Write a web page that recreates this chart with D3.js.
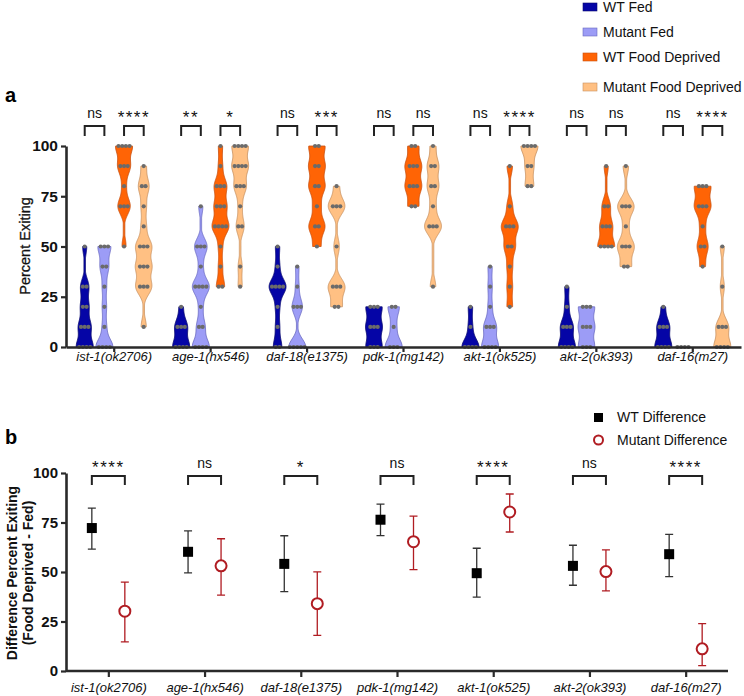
<!DOCTYPE html>
<html>
<head>
<meta charset="utf-8">
<script src="https://cdn.jsdelivr.net/npm/d3@7"></script>
<style>
  body { margin: 0; background: #fff; }
  text { font-family: "Liberation Sans", Arial, sans-serif; }
</style>
</head>
<body>
<svg width="744" height="696"></svg>
<script>
// Genotypes on the x axis
var genotypes = ["ist-1(ok2706)", "age-1(hx546)", "daf-18(e1375)", "pdk-1(mg142)",
                 "akt-1(ok525)", "akt-2(ok393)", "daf-16(m27)"];

// Panel a: percent exiting per plate
var wtFed = [
  [0,0,0,0,10,10,10,20,20,30,30,50],
  [0,0,0,0,10,10,10,20],
  [0,0,10,20,30,30,30,30,40,50],
  [0,0,0,10,10,10,20,20,20],
  [0,0,0,0,10,20],
  [0,0,0,0,10,10,10,20,30],
  [0,0,0,0,10,10,10,20]
];
var mutantFed = [
  [0,0,0,0,10,20,30,40,40,50,50,50],
  [0,0,0,0,10,10,20,30,30,30,30,40,50,50,50,70],
  [0,0,0,0,0,20,20,20,30,40],
  [0,0,0,10,20,20],
  [0,0,0,0,10,10,10,20,30,40],
  [0,0,0,10,10,10,20,20,20],
  [0,0,0,0]
];
var wtDeprived = [
  [50,70,70,70,80,90,90,90,100,100,100,100],
  [30,30,40,50,60,60,60,60,70,70,70,80,80,80,90,100],
  [50,60,60,70,80,80,90,90,100,100],
  [70,70,80,80,80,90,90,90,100,100],
  [20,30,40,50,50,60,60,60,70,90],
  [50,50,50,50,60,60,60,70,70,90],
  [40,50,50,60,70,70,70,80,80,80]
];
var mutantDeprived = [
  [10,30,30,30,40,40,40,50,50,50,60,70,80,80,90],
  [30,40,60,60,70,80,80,80,90,90,90,90,100,100,100,100],
  [20,20,30,30,30,50,70,70,70,80],
  [30,60,60,60,70,80,80,90,90,100],
  [80,80,90,90,100,100,100,100],
  [40,40,50,50,50,60,70,70,70,90],
  [0,0,0,0,10,10,10,30,50]
];
var sigFed      = ["ns", "**", "ns", "ns", "ns", "ns", "ns"];
var sigDeprived = ["****", "*", "***", "ns", "****", "ns", "****"];

// Panel b: difference (food deprived - fed), mean with error bar
var wtDiff     = [72.2, 60.2, 54.1, 76.4, 49.4, 53.1, 59.0];
var wtDiffLow  = [61.6, 49.6, 40.1, 68.4, 37.3, 43.3, 47.7];
var wtDiffHigh = [82.3, 70.8, 68.3, 84.3, 62.0, 63.5, 69.0];
var mutDiff     = [30.2, 53.1, 34.0, 65.3, 80.3, 50.2, 11.2];
var mutDiffLow  = [14.7, 38.3, 18.0, 51.2, 70.2, 40.5, 2.7];
var mutDiffHigh = [44.9, 66.8, 50.1, 78.2, 89.4, 61.2, 23.9];
var sigDiff = ["****", "ns", "*", "ns", "****", "ns", "****"];

var percentTicks = [0, 25, 50, 75, 100];

var seriesNames = ["WT Fed", "Mutant Fed", "WT Food Deprived", "Mutant Food Deprived"];
var fills   = ["#0505a6", "#9c9cf6", "#ff6405", "#ffc083"];
var strokes = ["#0a0a70", "#6a6ac0", "#c85010", "#c89060"];

var svg = d3.select("svg");
var axisColor = "#2a2a2a";

function styleAxis(g) {
  g.select(".domain").attr("stroke", axisColor).attr("stroke-width", 2.6);
  g.selectAll(".tick line").attr("stroke", axisColor).attr("stroke-width", 2.2);
  g.selectAll(".tick text").attr("fill", "#111").attr("font-family", "Liberation Sans, Arial, sans-serif");
}

function bracket(g, x1, x2, yTop, yBottom, label) {
  g.append("path")
    .attr("d", "M" + x1 + "," + yBottom + "V" + yTop + "H" + x2 + "V" + yBottom)
    .attr("fill", "none").attr("stroke", "#222").attr("stroke-width", 2);
  g.append("text")
    .attr("x", (x1 + x2) / 2)
    .attr("y", label == "ns" ? yTop - 8 : yTop - 3)
    .attr("text-anchor", "middle")
    .attr("font-size", label == "ns" ? 14 : 17)
    .attr("letter-spacing", label == "ns" ? 0 : 1.5)
    .attr("fill", "#111")
    .text(label);
}

// ---------------- Panel a ----------------
var xA = d3.scaleBand().domain(genotypes).range([66, 741]);
var yA = d3.scaleLinear().domain([0, 100]).range([347, 146]);
var sub = d3.scalePoint().domain(d3.range(4)).range([-29.5, 29.5]);

svg.append("text").attr("x", 5).attr("y", 102).attr("font-size", 20)
  .attr("font-weight", "bold").text("a");

svg.append("text")
  .attr("transform", "translate(30,246) rotate(-90)")
  .attr("text-anchor", "middle").attr("font-size", 14.5).attr("fill", "#111")
  .attr("stroke", "#111").attr("stroke-width", 0.3)
  .text("Percent Exiting");

// kernel density for one violin
function kde(values, h) {
  var lo = d3.min(values), hi = d3.max(values);
  var pts = [];
  for (var v = lo; v <= hi + 0.001; v += 0.5) {
    var d = d3.sum(values, function (x) { return Math.exp(-0.5 * Math.pow((v - x) / h, 2)); });
    pts.push([v, d]);
  }
  return pts;
}

var allSeries = [wtFed, mutantFed, wtDeprived, mutantDeprived];
var violinG = svg.append("g");
var dotG = svg.append("g");

genotypes.forEach(function (gname, gi) {
  var cx0 = xA(gname) + xA.bandwidth() / 2;
  allSeries.forEach(function (series, si) {
    var vals = series[gi];
    var cx = cx0 + sub(si);
    if (d3.min(vals) < d3.max(vals)) {
      var dens = kde(vals, 4);
      var maxD = d3.max(dens, function (p) { return p[1]; });
      var area = d3.area()
        .curve(d3.curveBasis)
        .y(function (p) { return yA(p[0]); })
        .x0(function (p) { return cx - Math.max(0.8, 8.5 * p[1] / maxD); })
        .x1(function (p) { return cx + Math.max(0.8, 8.5 * p[1] / maxD); });
      violinG.append("path")
        .attr("d", area(dens))
        .attr("fill", fills[si])
        .attr("stroke", strokes[si])
        .attr("stroke-width", 0.8);
    }
    var counts = d3.rollups(vals, function (v) { return v.length; }, function (v) { return v; });
    counts.forEach(function (c) {
      for (var i = 0; i < c[1]; i++) {
        dotG.append("circle")
          .attr("cx", cx + (i - (c[1] - 1) / 2) * 3.7)
          .attr("cy", yA(c[0]))
          .attr("r", 2.1)
          .attr("fill", "#6b6b6b");
      }
    });
  });
  bracket(svg, cx0 + sub(0), cx0 + sub(1), 126, 136, sigFed[gi]);
  bracket(svg, cx0 + sub(2), cx0 + sub(3), 126, 136, sigDeprived[gi]);
});

var axA = svg.append("g").attr("transform", "translate(66,0)")
  .call(d3.axisLeft(yA).tickValues(percentTicks).tickSize(5).tickPadding(3).tickSizeOuter(0));
axA.selectAll(".tick text").attr("font-size", 15.5).attr("font-weight", "bold");
styleAxis(axA);

var axAx = svg.append("g").attr("transform", "translate(0,347)")
  .call(d3.axisBottom(xA).tickSize(5).tickPadding(0).tickSizeOuter(0));
axAx.selectAll(".tick text").attr("font-size", 13).attr("font-style", "italic");
styleAxis(axAx);

// legend a
var legRows = [7, 32, 57, 87];
seriesNames.forEach(function (name, i) {
  svg.append("rect").attr("x", 583).attr("y", legRows[i] - 4).attr("width", 14).attr("height", 8)
    .attr("fill", fills[i]).attr("stroke", strokes[i]).attr("stroke-width", 0.6);
  svg.append("text").attr("x", 603).attr("y", legRows[i] + 5).attr("font-size", 14)
    .attr("fill", "#111").text(name);
});

// ---------------- Panel b ----------------
var xB = d3.scalePoint().domain(genotypes).range([66, 728]).padding(0.44);
var yB = d3.scaleLinear().domain([0, 100]).range([671, 473]);
var off = 16.5;

svg.append("text").attr("x", 5).attr("y", 444).attr("font-size", 20)
  .attr("font-weight", "bold").text("b");

var titleB = svg.append("text")
  .attr("transform", "translate(0,573) rotate(-90)")
  .attr("text-anchor", "middle").attr("font-size", 14).attr("font-weight", "bold").attr("fill", "#111");
titleB.append("tspan").attr("x", 0).attr("y", 17).text("Difference Percent Exiting");
titleB.append("tspan").attr("x", 0).attr("y", 33).text("(Food Deprived - Fed)");

var axB = svg.append("g").attr("transform", "translate(66,0)")
  .call(d3.axisLeft(yB).tickValues(percentTicks).tickSize(5).tickPadding(3).tickSizeOuter(0));
axB.selectAll(".tick text").attr("font-size", 15).attr("font-weight", "bold");
styleAxis(axB);

var axBx = svg.append("g").attr("transform", "translate(0,671)")
  .call(d3.axisBottom(xB).tickSize(6).tickPadding(6).tickSizeOuter(0));
axBx.select(".domain").attr("d", "M66,0H728");
axBx.selectAll(".tick text").attr("font-size", 13).attr("font-style", "italic");
styleAxis(axBx);

var red = "#b01c22";
genotypes.forEach(function (gname, gi) {
  var cx = xB(gname);
  // WT
  var xw = cx - off;
  svg.append("path")
    .attr("d", "M" + (xw - 4) + "," + yB(wtDiffHigh[gi]) + "H" + (xw + 4) +
      "M" + xw + "," + yB(wtDiffHigh[gi]) + "V" + yB(wtDiffLow[gi]) +
      "M" + (xw - 4) + "," + yB(wtDiffLow[gi]) + "H" + (xw + 4))
    .attr("stroke", "#333").attr("stroke-width", 1.3).attr("fill", "none");
  svg.append("rect").attr("x", xw - 5).attr("y", yB(wtDiff[gi]) - 5)
    .attr("width", 10).attr("height", 10).attr("fill", "#000");
  // mutant
  var xm = cx + off;
  svg.append("path")
    .attr("d", "M" + (xm - 4) + "," + yB(mutDiffHigh[gi]) + "H" + (xm + 4) +
      "M" + xm + "," + yB(mutDiffHigh[gi]) + "V" + yB(mutDiffLow[gi]) +
      "M" + (xm - 4) + "," + yB(mutDiffLow[gi]) + "H" + (xm + 4))
    .attr("stroke", red).attr("stroke-width", 1.3).attr("fill", "none");
  svg.append("circle").attr("cx", xm).attr("cy", yB(mutDiff[gi])).attr("r", 5.5)
    .attr("fill", "#fff").attr("stroke", red).attr("stroke-width", 2);
  bracket(svg, xw, xm, 476, 485, sigDiff[gi]);
});

// legend b
svg.append("rect").attr("x", 594).attr("y", 413).attr("width", 9).attr("height", 9).attr("fill", "#000");
svg.append("text").attr("x", 617).attr("y", 422).attr("font-size", 14).attr("fill", "#111").text("WT Difference");
svg.append("circle").attr("cx", 598.5).attr("cy", 440).attr("r", 4.5)
  .attr("fill", "#fff").attr("stroke", red).attr("stroke-width", 2);
svg.append("text").attr("x", 617).attr("y", 445).attr("font-size", 14).attr("fill", "#111").text("Mutant Difference");
</script>
</body>
</html>
